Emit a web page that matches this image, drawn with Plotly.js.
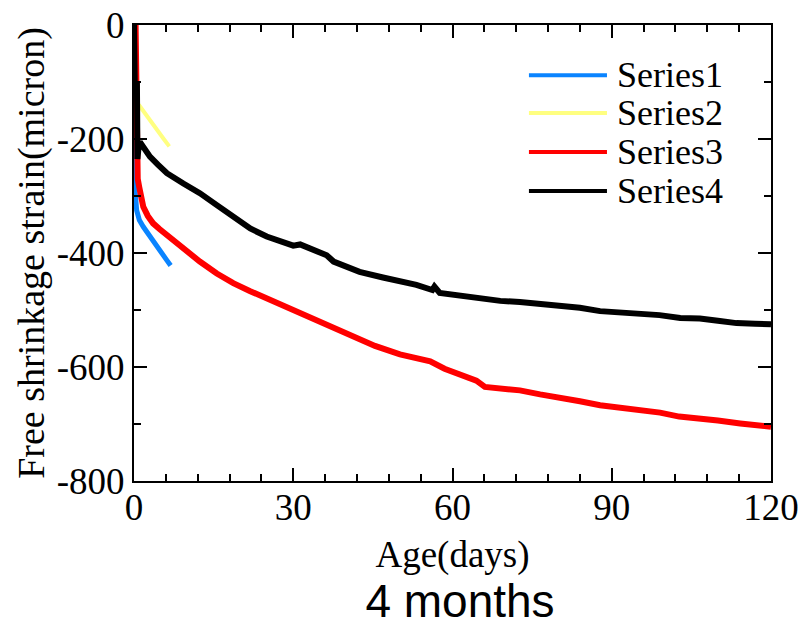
<!DOCTYPE html>
<html>
<head>
<meta charset="utf-8">
<script src="https://cdn.plot.ly/plotly-3.0.1.min.js"></script>
<style>html,body{margin:0;padding:0;background:#fff;}#chart{width:804px;height:629px;}</style>
</head>
<body>
<div id="chart"></div>
<script>
const seriesNames = ['Series1', 'Series2', 'Series3', 'Series4'];
const seriesColors = ['#0a84ff', '#ffff80', '#ff0000', '#000000'];

const s1Days = [0, 0.1, 0.2, 0.5, 1.0, 1.75, 2.6, 3.6, 4.5, 5.5, 6.2, 6.9];
const s1Vals = [0, -200, -290, -325, -342, -354, -366, -377, -390, -403, -413, -422];

const s2Days = [0.9, 1.5, 2.4, 3.5, 4.6, 5.6, 6.65];
const s2Vals = [-140, -148, -158, -172, -187, -200, -213];

const s3Days = [0.3, 0.45, 0.7, 1.0, 1.75, 2.6, 3.6, 4.8, 6.1, 7.7, 9.3, 12.4, 15.6, 18.7, 21.9, 25, 28, 31.3, 36, 40.7, 45.4, 50.1, 55.8, 58.5, 61.4, 64.5, 66.1, 69, 72.7, 76.5, 80.3, 84, 87.8, 91.5, 95.2, 99.1, 102.7, 106.6, 110, 114.2, 117, 120];
const s3Vals = [0, -230, -270, -285, -319, -335, -348, -358, -368, -380, -392, -415, -436, -453, -467, -480, -492, -505, -525, -545, -563, -578, -590, -603, -614, -624, -635, -638, -641, -648, -653, -660, -667, -671, -675, -680, -687, -692, -694, -699, -702, -705];

const s4Days = [0, 0.15, 0.4, 0.55, 0.65, 0.8, 1.1, 2.0, 3.0, 4.5, 6.2, 9.3, 12.4, 15.6, 18.7, 21.9, 25, 27.5, 30, 31.3, 33, 36.3, 37.6, 41.3, 42.5, 46.9, 50, 53.2, 56.2, 56.6, 57.6, 61.4, 65.2, 69, 72.7, 76.5, 80.3, 84, 87.8, 91.5, 95.3, 99, 102.9, 106.6, 110, 113.5, 117, 120];
const s4Vals = [0, -110, -105, -100, -235, -220, -205, -218, -231, -245, -260, -278, -295, -316, -336, -357, -371, -379, -387, -385, -392, -404, -415, -427, -433, -443, -449, -456, -465, -459, -470, -475, -481, -484, -486, -489, -491, -496, -502, -504, -507, -509, -514, -515, -519, -523, -524, -525];

const xTickVals = [0, 30, 60, 90, 120];
const yTickVals = [0, -200, -400, -600, -800];

const SERIF = 'Liberation Serif';
const SANS = 'Liberation Sans';

const allDays = [s1Days, s2Days, s3Days, s4Days];
const allVals = [s1Vals, s2Vals, s3Vals, s4Vals];
const widths = [5, 4, 6, 6];

const traces = allDays.map((d, i) => ({
  x: d, y: allVals[i], type: 'scatter', mode: 'lines', name: seriesNames[i],
  line: {color: seriesColors[i], width: widths[i]}, showlegend: false
}));

const legY = [0.890, 0.807, 0.7215, 0.636];
const shapes = seriesNames.map((n, i) => ({
  type: 'line', xref: 'paper', yref: 'paper', x0: 0.620, x1: 0.7425, y0: legY[i], y1: legY[i],
  line: {color: seriesColors[i], width: 4}
}));
const annotations = seriesNames.map((n, i) => ({
  text: n, xref: 'paper', yref: 'paper', x: 0.755, y: legY[i], xanchor: 'left', yanchor: 'middle',
  showarrow: false, font: {family: SERIF, size: 36, color: '#000'}
}));

function axisBase() {
  return {
    showline: true, linecolor: '#000', linewidth: 2, mirror: 'allticks',
    ticks: 'inside', ticklen: 13, tickwidth: 2, tickcolor: '#000',
    showgrid: false, zeroline: false,
    tickfont: {family: SERIF, size: 37, color: '#000'}
  };
}

const layout = {
  width: 804, height: 629,
  margin: {l: 134, r: 33, t: 25, b: 148},
  paper_bgcolor: '#fff', plot_bgcolor: '#fff',
  font: {family: SERIF, color: '#000'},
  title: {text: '4 months', font: {family: SANS, size: 46, color: '#000'},
          x: 460/804, xanchor: 'center', xref: 'container', y: 1 - 601/629, yanchor: 'middle', yref: 'container'},
  xaxis: Object.assign(axisBase(), {
    range: [0, 120], tickvals: xTickVals, ticktext: xTickVals.map(String),
    ticklabelstandoff: -7,
    minor: {dtick: 6, tick0: 0, ticks: 'inside', ticklen: 7, tickwidth: 2, tickcolor: '#000', showgrid: false},
    title: {text: 'Age(days)', font: {family: SERIF, size: 37, color: '#000'}, standoff: 14}
  }),
  yaxis: Object.assign(axisBase(), {
    range: [-800, 0], tickvals: yTickVals, ticktext: yTickVals.map(String),
    minor: {dtick: 100, tick0: 0, ticks: 'inside', ticklen: 7, tickwidth: 2, tickcolor: '#000', showgrid: false},
    title: {text: 'Free shrinkage strain(micron)', font: {family: SERIF, size: 38, color: '#000'}, standoff: 0}
  }),
  shapes: shapes,
  annotations: annotations
};

Plotly.newPlot('chart', traces, layout, {displayModeBar: false, staticPlot: true});
</script>
</body>
</html>
